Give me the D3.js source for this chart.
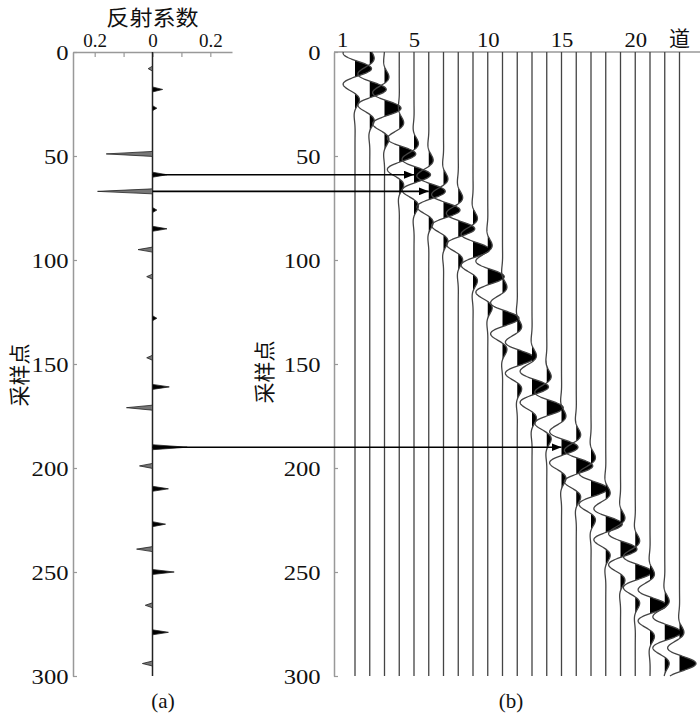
<!DOCTYPE html>
<html>
<head>
<meta charset="utf-8">
<script src="https://cdn.jsdelivr.net/npm/d3@7"></script>
<style>
  body { margin: 0; background: #fff; }
  svg text { font-family: "Liberation Serif", "DejaVu Serif", serif; fill: #111; }
  svg text.cjk { font-family: "Noto Sans CJK SC", sans-serif; }
</style>
</head>
<body>
<svg class="chart"></svg>
<script>
const width = 700,
      height = 714

// sample axis and coefficient axis
const sampleTicks = [0, 50, 100, 150, 200, 250, 300]
const coefTicks = [-0.2, -0.1, 0, 0.1, 0.2]
const coefLabels = ["0.2", "", "0", "", "0.2"]
const traceTicks = [1, 5, 10, 15, 20]

// reflection coefficients: sample index and value
const reflTimes = [8, 18, 27, 49, 59, 67, 76, 85, 95, 108, 128, 147, 161, 171, 190, 199, 210, 227, 239, 250, 266, 279, 294]
const reflCoefs = [-0.015, 0.035, 0.015, -0.16, 0.05, -0.19, 0.015, 0.05, -0.05, -0.02, 0.015, -0.02,
                   0.058, -0.09, 0.12, -0.045, 0.055, 0.045, -0.055, 0.075, -0.025, 0.055, -0.035]

// traces that the arrows point to (panel b)
const arrowTraces = [5, 6, 15]

const traces = d3.range(1, reflTimes.length + 1)

const y = d3.scaleLinear().domain([0, 300]).range([52, 676])
const xr = d3.scaleLinear().domain([-0.275, 0.275]).range([73, 232])
const xt = d3.scaleLinear().domain([1, 23]).range([355, 679.5])
const amp = d3.scaleLinear().domain([0, 1]).range([0, 16.5])

// wavelet shape used to draw each trace
const wavelet = (tau) => Math.cos(2 * Math.PI * tau / 16) * Math.exp(-(tau / 13.5) * (tau / 13.5))

const chart = d3.select(".chart")
    .attr("width", width)
    .attr("height", height)

const defs = chart.append("defs")
defs.append("marker")
    .attr("id", "head")
    .attr("viewBox", "0 0 10 8")
    .attr("refX", 10)
    .attr("refY", 4)
    .attr("markerWidth", 10)
    .attr("markerHeight", 8)
    .attr("markerUnits", "userSpaceOnUse")
    .attr("orient", "auto")
  .append("path")
    .attr("d", "M0,0L10,4L0,8Z")
    .attr("fill", "#000")

// the source figure has slightly wide lettering, so stretch labels a bit
function styleAxis(g, size, stretch) {
  g.select(".domain").attr("stroke", "#999").attr("stroke-width", 1.5)
  g.selectAll(".tick line").attr("stroke", "#999").attr("stroke-width", 1.2)
  g.selectAll("text")
      .attr("font-family", null)
      .style("font-size", size + "px")
      .attr("transform", `scale(${stretch},1)`)
  g.attr("font-family", null).attr("font-size", null)
}

// ---- panel (a)
chart.append("g")
    .attr("transform", `translate(0,${y(0)})`)
    .call(d3.axisTop(xr)
      .tickValues(coefTicks)
      .tickFormat((d, i) => coefLabels[i])
      .tickSize(-5)
      .tickSizeOuter(0)
      .tickPadding(5))
    .call(g => styleAxis(g, 19, 1))

chart.append("g")
    .attr("transform", `translate(${xr.range()[0]},0)`)
    .call(d3.axisLeft(y)
      .tickValues(sampleTicks)
      .tickSize(-4)
      .tickSizeOuter(0)
      .tickPadding(4))
    .call(g => styleAxis(g, 22, 1.12))
  .selectAll("text")
    .attr("dy", "0.34em")

chart.append("line")
    .attr("x1", xr(0)).attr("x2", xr(0))
    .attr("y1", y(0)).attr("y2", y(300))
    .attr("stroke", "#222")
    .attr("stroke-width", 1.5)

chart.append("g")
  .selectAll("path")
  .data(reflTimes.map((t, i) => ({ t: t, c: reflCoefs[i] })))
  .enter()
  .append("path")
    .attr("d", d => `M${xr(0)},${y(d.t - 1.2)}L${xr(d.c)},${y(d.t)}L${xr(0)},${y(d.t + 1.2)}Z`)
    .attr("fill", d => d.c > 0 ? "#000" : "#777")
    .attr("stroke", "#222")
    .attr("stroke-width", 0.8)

// ---- panel (b)
chart.append("line")
    .attr("x1", 334).attr("x2", 700)
    .attr("y1", y(0)).attr("y2", y(0))
    .attr("stroke", "#999")
    .attr("stroke-width", 1.5)

chart.append("g")
    .attr("transform", "translate(334,0)")
    .call(d3.axisLeft(y)
      .tickValues(sampleTicks)
      .tickSize(-4)
      .tickSizeOuter(0)
      .tickPadding(12))
    .call(g => styleAxis(g, 22, 1.12))
  .selectAll("text")
    .attr("dy", "0.34em")

const topAxis = chart.append("g")
    .attr("transform", `translate(0,${y(0)})`)
    .call(d3.axisTop(xt)
      .tickValues(traceTicks)
      .tickSize(0)
      .tickPadding(5))
    .call(g => styleAxis(g, 21, 1.08))
topAxis.select(".domain").remove()
topAxis.selectAll("text").attr("dx", d => d === 1 ? -12 : 0)

chart.append("text")
    .attr("class", "cjk")
    .attr("x", xt(23))
    .attr("y", 46)
    .attr("text-anchor", "middle")
    .style("font-size", "21px")
    .text("道")

const ts = d3.range(0, 300.001, 0.25)

const traceG = chart.append("g")
  .selectAll("g")
  .data(traces)
  .enter()
  .append("g")

traceG.append("path")
    .attr("d", k => d3.area()
      .y(t => y(t))
      .x0(xt(k))
      .x1(t => xt(k) + amp(Math.max(0, wavelet(t - reflTimes[k - 1]))))(ts))
    .attr("fill", "#000")

traceG.append("path")
    .attr("d", k => d3.line()
      .x(t => xt(k) + amp(wavelet(t - reflTimes[k - 1])))
      .y(t => y(t))(ts))
    .attr("fill", "none")
    .attr("stroke", "#444")
    .attr("stroke-width", 1.3)

// arrows from panel (a) spikes to the matching traces
chart.append("g")
  .selectAll("line")
  .data(arrowTraces)
  .enter()
  .append("line")
    .attr("x1", xr(0))
    .attr("x2", k => xt(k))
    .attr("y1", k => y(reflTimes[k - 1]))
    .attr("y2", k => y(reflTimes[k - 1]))
    .attr("stroke", "#000")
    .attr("stroke-width", 1.6)
    .attr("marker-end", "url(#head)")

// titles
chart.append("text")
    .attr("class", "cjk")
    .attr("x", xr(0))
    .attr("y", 25)
    .attr("text-anchor", "middle")
    .style("font-size", "21px")
    .attr("transform", `translate(${xr(0)},0) scale(1.1,1) translate(${-xr(0)},0)`)
    .text("反射系数")

chart.append("text")
    .attr("class", "cjk")
    .attr("transform", "translate(27,375) rotate(-90)")
    .attr("text-anchor", "middle")
    .style("font-size", "21px")
    .text("采样点")

chart.append("text")
    .attr("class", "cjk")
    .attr("transform", "translate(272,372) rotate(-90)")
    .attr("text-anchor", "middle")
    .style("font-size", "21px")
    .text("采样点")

chart.append("text")
    .attr("x", 163)
    .attr("y", 708)
    .attr("text-anchor", "middle")
    .style("font-size", "21px")
    .text("(a)")

chart.append("text")
    .attr("x", 511)
    .attr("y", 708)
    .attr("text-anchor", "middle")
    .style("font-size", "21px")
    .text("(b)")
</script>
</body>
</html>
